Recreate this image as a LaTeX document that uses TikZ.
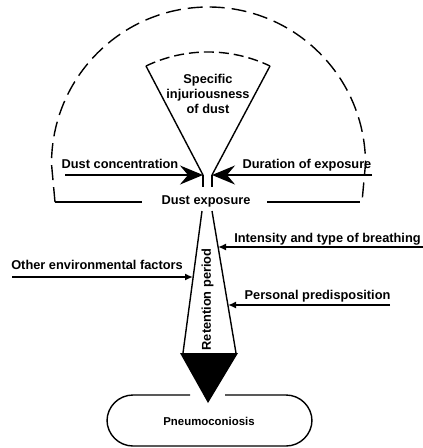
\documentclass[tikz,border=0pt]{standalone}
\usepackage{fontspec}
\setmainfont{Liberation Sans}
\usetikzlibrary{arrows.meta}

\begin{document}
\begin{tikzpicture}[x=1pt, y=-1pt, line width=1.4pt,
    every node/.style={font=\fontsize{12.8}{15}\selectfont\bfseries, inner sep=0pt},
    bigarrow/.style={-{Stealth[length=23pt,width=19pt,inset=8pt]}, line width=1.9pt},
    smallarrow/.style={-{Latex[length=8pt,width=7pt]}, line width=1.8pt},
    outerdash/.style={dash pattern=on 15pt off 7pt},
    innerdash/.style={dash pattern=on 10pt off 5pt}]

    \useasboundingbox (0,0) rectangle (423,448);

    % parameters
    \def\rout{157}      % radius of the outer arc
    \def\rin{144}       % radius of the inner arc

    % --- points of the scheme ---
    \coordinate (tipL) at (203,175);
    \coordinate (tipR) at (212,175);
    \coordinate (stemL) at (203,187);
    \coordinate (stemR) at (212,187);
    \coordinate (funL) at (202,211);
    \coordinate (funR) at (212,211);
    \coordinate (botL) at (183,353);
    \coordinate (botR) at (236,353);
    \coordinate (baseL) at (180,353);
    \coordinate (baseR) at (238,353);
    \coordinate (cornL) at (146,66);
    \coordinate (cornR) at (270,66);
    \coordinate (concIn) at (65,175);
    \coordinate (durIn) at (372,175);
    \coordinate (breathIn) at (423,247);
    \coordinate (breathOut) at (218,247);
    \coordinate (otherIn) at (12,277);
    \coordinate (otherOut) at (193,277);
    \coordinate (persIn) at (390,305);
    \coordinate (persOut) at (228,305);
    \coordinate (tip) at (208,403);

    % --- texts ---
    \node[align=center] (spec) at (208,94) {Specific\\injuriousness\\of dust};
    \node[anchor=base] (conc) at (120,168) {Dust concentration};
    \node[anchor=base] (dur) at (307,168) {Duration of exposure};
    \node[anchor=base] (expo) at (206,204) {Dust exposure};
    \node[anchor=base] (breath) at (327.5,242) {Intensity and type of breathing};
    \node[anchor=base] (other) at (97,269) {Other environmental factors};
    \node[anchor=base] (pers) at (317.5,299) {Personal predisposition};
    \node[rotate=90] (ret) at (207.5,299.5) {Retention period};
    \node[font=\fontsize{11.4}{13}\selectfont\bfseries] (pneu) at (209,421) {Pneumoconiosis};

    % --- outer arc ---
    \draw[outerdash] (55,202) -- (51.5,164) arc[start angle=180, end angle=360, radius=\rout] -- (362,202);
    \draw (55,202) -- (142,202);
    \draw (267,202) -- (360,202);

    % --- sector ---
    \draw[innerdash] (cornL) arc[start angle=244.5, end angle=295.5, radius=\rin];
    \draw (cornL) -- (tipL);
    \draw (cornR) -- (tipR);

    % --- inputs ---
    \draw[bigarrow] (concIn) -- (tipL);
    \draw[bigarrow] (durIn) -- (tipR);
    \draw (tipL) -- (stemL);
    \draw (tipR) -- (stemR);

    % --- funnel ---
    \draw (funL) -- (botL);
    \draw (funR) -- (botR);
    \fill (baseL) -- (baseR) -- (tip) -- cycle;
    \draw[smallarrow] (breathIn) -- (breathOut);
    \draw[smallarrow] (otherIn) -- (otherOut);
    \draw[smallarrow] (persIn) -- (persOut);

    % --- result ---
    \draw[rounded corners=26] (190,395) -- (107,395) -- (107,446) -- (312,446) -- (312,395) -- (225,395);

\end{tikzpicture}
\end{document}
